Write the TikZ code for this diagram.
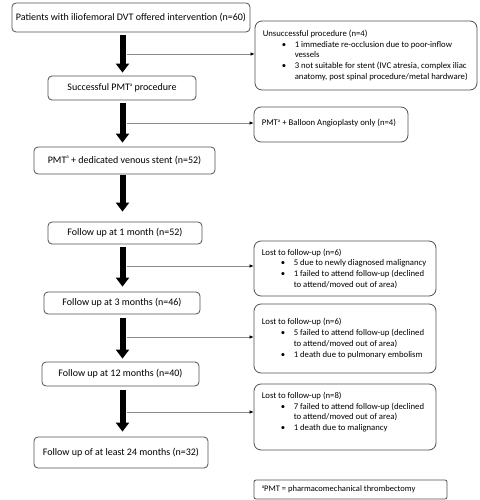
\documentclass[tikz,border=0pt]{standalone}
\usepackage{fontspec}
\setmainfont{Carlito}
\usetikzlibrary{arrows.meta}
\definecolor{boxline}{HTML}{505050}
\definecolor{thinline}{HTML}{8A8A8A}
\newcommand{\bl}[1]{\hspace*{19pt}\makebox[13pt][l]{\textbullet}#1}
\newcommand{\cl}[1]{\hspace*{32pt}#1}
\newcommand{\supa}{\raisebox{0.45em}{\fontsize{5}{5}\selectfont a}}
\tikzset{
  mainbox/.style={draw=boxline, line width=0.8pt, rounded corners=4pt, inner sep=0pt,
    font=\fontsize{10}{12}\selectfont},
  sidebox/.style={draw=boxline, line width=0.8pt, rounded corners=7pt, inner sep=0pt},
  sidetext/.style={anchor=west, align=left, inner sep=0pt,
    font=\fontsize{8.7}{10.7}\selectfont},
  thick arrow/.style={line width=6pt, -{Triangle[width=13pt,length=9pt]}},
  thin arrow/.style={draw=thinline, line width=0.6pt, -{Latex[length=4pt,width=3.5pt,black]}},
}
\begin{document}
\begin{tikzpicture}[x=1pt,y=-1pt]
\useasboundingbox (0,0) rectangle (479,500);
\coordinate (ax) at (122.5,0);
% main boxes
\node[mainbox, minimum width=238pt, minimum height=29pt] (b1) at (131,17.5) {Patients with iliofemoral DVT offered intervention (n=60)};
\node[mainbox, minimum width=148pt, minimum height=24pt] (b2) at (122,88) {Successful PMT\supa{} procedure};
\node[mainbox, minimum width=181pt, minimum height=27pt] (b3) at (124.5,160.5) {PMT\supa{} + dedicated venous stent (n=52)};
\node[mainbox, minimum width=154pt, minimum height=22pt] (b4) at (125,233) {Follow up at 1 month (n=52)};
\node[mainbox, minimum width=156pt, minimum height=22pt] (b5) at (122,303) {Follow up at 3 months (n=46)};
\node[mainbox, minimum width=157pt, minimum height=24pt] (b6) at (120.5,374) {Follow up at 12 months (n=40)};
\node[mainbox, minimum width=174pt, minimum height=31pt] (b7) at (121,452.5) {Follow up of at least 24 months (n=32)};
% side boxes
\node[sidebox, minimum width=222pt, minimum height=69pt] (s1) at (366,55.5) {};
\node[sidetext] (s1t) at ([xshift=8pt]s1.west) {Unsuccessful procedure (n=4)\\
\bl{1 immediate re-occlusion due to poor-inflow}\\
\cl{vessels}\\
\bl{3 not suitable for stent (IVC atresia, complex iliac}\\
\cl{anatomy, post spinal procedure/metal hardware)}};
\node[sidebox, minimum width=154pt, minimum height=35pt] (s2) at (331,124.5) {};
\node[sidetext] (s2t) at ([xshift=8pt,yshift=1pt]s2.west) {PMT\supa{} + Balloon Angioplasty only (n=4)};
\node[sidebox, minimum width=182pt, minimum height=55pt] (s3) at (345,268.5) {};
\node[sidetext] (s3t) at ([xshift=8pt]s3.west) {Lost to follow-up (n=6)\\
\bl{5 due to newly diagnosed malignancy}\\
\bl{1 failed to attend follow-up (declined}\\
\cl{to attend/moved out of area)}};
\node[sidebox, minimum width=182pt, minimum height=69pt] (s4) at (345,338.5) {};
\node[sidetext] (s4t) at ([xshift=8pt]s4.west) {Lost to follow-up (n=6)\\
\bl{5 failed to attend follow-up (declined}\\
\cl{to attend/moved out of area)}\\
\bl{1 death due to pulmonary embolism}};
\node[sidebox, minimum width=182pt, minimum height=66pt] (s5) at (345,417) {};
\node[sidetext] (s5t) at ([xshift=8pt,yshift=5pt]s5.west) {Lost to follow-up (n=8)\\
\bl{7 failed to attend follow-up (declined}\\
\cl{to attend/moved out of area)}\\
\bl{1 death due to malignancy}};
\node[draw=boxline, line width=0.8pt, rounded corners=2pt, minimum width=193pt, minimum height=19pt, inner sep=0pt] (fn) at (350.5,489.5) {};
\node[sidetext, font=\fontsize{8.5}{10}\selectfont] (fnt) at ([xshift=8pt]fn.west) {\supa{}PMT = pharmacomechanical thrombectomy};
% thick arrows
\draw[thick arrow, shorten <=3pt, shorten >=3pt] (b1.south -| ax) -- (b2.north -| ax);
\draw[thick arrow, shorten <=3pt, shorten >=4pt] (b2.south -| ax) -- (b3.north -| ax);
\draw[thick arrow, shorten <=1pt, shorten >=10pt] (b3.south -| ax) -- (b4.north -| ax);
\draw[thick arrow, shorten <=3pt, shorten >=5pt] (b4.south -| ax) -- (b5.north -| ax);
\draw[thick arrow, shorten <=4pt, shorten >=3pt] (b5.south -| ax) -- (b6.north -| ax);
\draw[thick arrow, shorten <=4pt, shorten >=5pt] (b6.south -| ax) -- (b7.north -| ax);
% thin arrows
\coordinate (t1) at (127,54);
\coordinate (t2) at (127,123);
\coordinate (t3) at (127,266);
\coordinate (t4) at (127,337);
\coordinate (t5) at (127,412);
\draw[thin arrow] (t1) -- (s1.west |- t1);
\draw[thin arrow] (t2) -- (s2.west |- t2);
\draw[thin arrow] (t3) -- (s3.west |- t3);
\draw[thin arrow] (t4) -- (s4.west |- t4);
\draw[thin arrow] (t5) -- (s5.west |- t5);
\end{tikzpicture}
\end{document}
